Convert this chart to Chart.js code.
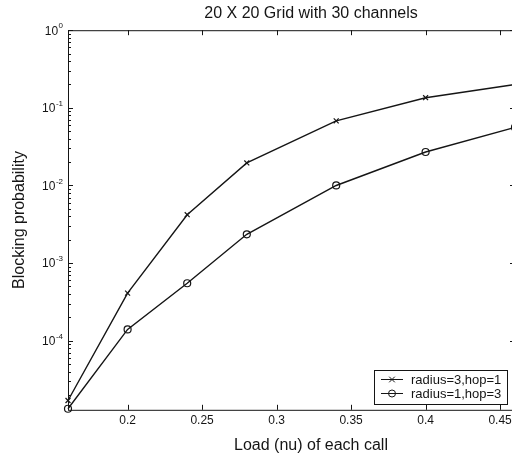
<!DOCTYPE html>
<html>
<head>
<meta charset="utf-8">
<script src="https://cdn.jsdelivr.net/npm/chart.js@4.4.0/dist/chart.umd.min.js"></script>
<style>
html, body { margin: 0; padding: 0; overflow: hidden; background: #fff; }
#wrap { width: 512px; height: 457px; overflow: hidden; position: relative; }
canvas { position: absolute; left: 0; top: 0; }
</style>
</head>
<body>
<div id="wrap"><canvas id="grafico" width="622" height="457"></canvas></div>
<script>
// dados
const loads = [0.16, 0.2, 0.24, 0.28, 0.34, 0.4, 0.46];
const radius3hop1 = [1.7e-5, 4.1e-4, 4.2e-3, 1.95e-2, 6.8e-2, 0.135, 0.2];
const radius1hop3 = [1.33e-5, 1.4e-4, 5.5e-4, 2.35e-3, 1.0e-2, 2.7e-2, 5.6e-2];
const seriesNames = ['radius=3,hop=1', 'radius=1,hop=3'];
const xTicks = [0.2, 0.25, 0.3, 0.35, 0.4, 0.45];
const yTicks = [1e-4, 1e-3, 1e-2, 1e-1, 1];

const ink = '#151515';
const fam = '"Liberation Sans", Arial, Helvetica, sans-serif';
Chart.defaults.font.family = fam;
Chart.defaults.color = ink;

function marker(ctx, style, r, x, y) {
    ctx.beginPath();
    if (style === 'crossRot') {
        const d = r * 0.8;
        ctx.moveTo(x - d, y - d); ctx.lineTo(x + d, y + d);
        ctx.moveTo(x - d, y + d); ctx.lineTo(x + d, y - d);
    } else {
        ctx.arc(x, y, r, 0, Math.PI * 2);
    }
    ctx.stroke();
}

// moldura, ticks para dentro, rótulos 10^n e legenda
const eixos = {
    id: 'eixos',
    afterDraw(chart) {
        const { ctx, chartArea: a, scales: { x, y } } = chart;
        ctx.save();
        ctx.strokeStyle = ink;
        ctx.lineWidth = 1;
        ctx.strokeRect(a.left + 0.5, a.top + 0.5, a.right - a.left, a.bottom - a.top);

        ctx.beginPath();
        xTicks.forEach(v => {
            const px = Math.round(x.getPixelForValue(v)) + 0.5;
            ctx.moveTo(px, a.bottom); ctx.lineTo(px, a.bottom - 5);
            ctx.moveTo(px, a.top); ctx.lineTo(px, a.top + 5);
        });
        for (let e = -5; e <= 0; e++) {
            for (let k = 1; k <= 9; k++) {
                const v = k * Math.pow(10, e);
                if (v < y.min || v > y.max) continue;
                const py = Math.round(y.getPixelForValue(v)) + 0.5;
                const len = k === 1 ? 5 : 3;
                ctx.moveTo(a.left, py); ctx.lineTo(a.left + len, py);
                ctx.moveTo(a.right, py); ctx.lineTo(a.right - len, py);
            }
        }
        ctx.stroke();

        ctx.fillStyle = ink;
        ctx.textAlign = 'right';
        ctx.textBaseline = 'middle';
        yTicks.forEach(v => {
            const py = y.getPixelForValue(v);
            const ex = String(Math.round(Math.log10(v)));
            ctx.font = '8px ' + fam;
            const w = ctx.measureText(ex).width;
            ctx.fillText(ex, 63, py - 4);
            ctx.font = '12px ' + fam;
            ctx.fillText('10', 63 - w - 0.5, py + 1);
        });

        // legenda
        const bx = 374, by = 370, bw = 133, bh = 34;
        ctx.fillStyle = '#fff';
        ctx.fillRect(bx, by, bw, bh);
        ctx.strokeRect(bx + 0.5, by + 0.5, bw, bh);
        ctx.font = '13px ' + fam;
        ctx.textAlign = 'left';
        chart.data.datasets.forEach((ds, i) => {
            const ry = by + 9.5 + i * 14;
            ctx.beginPath();
            ctx.moveTo(381, ry); ctx.lineTo(403, ry);
            ctx.stroke();
            marker(ctx, ds.pointStyle, ds.pointRadius, 392, ry);
            ctx.fillStyle = ink;
            ctx.fillText(ds.label, 411, ry + 0.5);
        });
        ctx.restore();
    }
};

const ctx = document.getElementById('grafico').getContext('2d');
const myChart = new Chart(ctx, {
    type: 'line',
    data: {
        datasets: [{
            label: seriesNames[0],
            data: loads.map((v, i) => ({ x: v, y: radius3hop1[i] })),
            borderColor: ink,
            borderWidth: 1.4,
            pointStyle: 'crossRot',
            pointRadius: 3.5,
            pointBorderWidth: 1.2,
            pointBorderColor: ink,
            pointBackgroundColor: 'rgba(0,0,0,0)',
            fill: false,
            tension: 0,
            clip: false
        }, {
            label: seriesNames[1],
            data: loads.map((v, i) => ({ x: v, y: radius1hop3[i] })),
            borderColor: ink,
            borderWidth: 1.4,
            pointStyle: 'circle',
            pointRadius: 3.5,
            pointBorderWidth: 1.2,
            pointBorderColor: ink,
            pointBackgroundColor: 'rgba(0,0,0,0)',
            fill: false,
            tension: 0,
            clip: false
        }]
    },
    options: {
        responsive: false,
        animation: false,
        layout: { padding: 0 },
        scales: {
            x: {
                type: 'linear',
                min: 0.16,
                max: 0.46,
                afterBuildTicks: s => { s.ticks = xTicks.map(v => ({ value: v })); },
                afterFit: s => { s.height = 23; },
                grid: { display: false, drawTicks: false, tickLength: 0 },
                border: { display: false },
                ticks: {
                    font: { size: 12 },
                    color: ink,
                    padding: 4,
                    maxRotation: 0,
                    autoSkip: false,
                    callback: v => String(v)
                }
            },
            y: {
                type: 'logarithmic',
                min: 1.29e-5,
                max: 1,
                afterFit: s => { s.width = 68; },
                grid: { display: false, drawTicks: false, tickLength: 0 },
                border: { display: false },
                ticks: { display: false },
                title: {
                    display: true,
                    text: 'Blocking probability',
                    font: { size: 16 },
                    color: ink,
                    padding: { top: 10, bottom: 0 }
                }
            },
            yR: {
                type: 'linear',
                position: 'right',
                display: true,
                afterFit: s => { s.width = 107; },
                grid: { display: false, drawTicks: false, tickLength: 0 },
                border: { display: false },
                ticks: { display: false }
            }
        },
        plugins: {
            legend: { display: false },
            tooltip: { enabled: false },
            title: {
                display: true,
                text: '20 X 20 Grid with 30 channels',
                font: { size: 16, weight: 'normal' },
                color: ink,
                padding: { top: 4, bottom: 7 }
            },
            subtitle: {
                display: true,
                position: 'bottom',
                text: 'Load (nu) of each call',
                font: { size: 16, weight: 'normal' },
                color: ink,
                padding: { top: 3, bottom: 2 }
            }
        }
    },
    plugins: [eixos]
});
</script>
</body>
</html>
